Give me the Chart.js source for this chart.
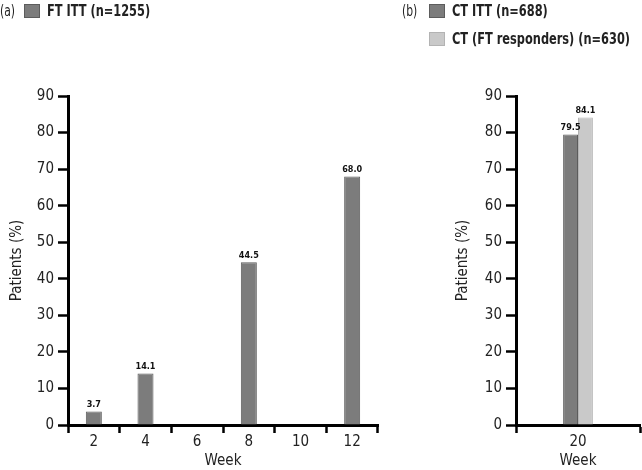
<!DOCTYPE html>
<html>
<head>
<meta charset="utf-8">
<script src="https://cdn.jsdelivr.net/npm/chart.js@4"></script>
<style>
  body { margin: 0; background: #fff; }
  #wrap { position: relative; width: 642px; height: 470px; overflow: hidden;
          font-family: 'Liberation Sans Narrow', 'DejaVu Sans Condensed', sans-serif; color: #222; }
  canvas { position: absolute; top: 0; }
  .tag { position: absolute; font-size: 15px; transform: scaleX(0.8); transform-origin: left top; }
  .key { position: absolute; font-size: 16px; font-weight: bold; white-space: nowrap; }
  .key i { display: inline-block; width: 16px; height: 14px; vertical-align: -2px; margin-right: 7px; box-sizing: border-box; }
  .key span { display: inline-block; transform: scaleX(0.79); transform-origin: left center; }
</style>
</head>
<body>
<div id="wrap">
  <canvas id="chartA" width="400" height="470" style="left:0"></canvas>
  <canvas id="chartB" width="198" height="470" style="left:444px"></canvas>
  <div class="tag" style="left:0;top:2px">(a)</div>
  <div class="tag" style="left:402px;top:2px">(b)</div>
  <div class="key" id="keyA1" style="left:24px;top:1px"></div>
  <div class="key" id="keyB1" style="left:429px;top:1px"></div>
  <div class="key" id="keyB2" style="left:429px;top:29px"></div>
</div>
<script>
// panel (a)
var weeksA = ["2", "4", "6", "8", "10", "12"];
var ftItt = [3.7, 14.1, null, 44.5, null, 68.0];

// panel (b)
var weeksB = ["20"];
var ctItt = [79.5];
var ctFtResp = [84.1];

var seriesNames = ["FT ITT (n=1255)", "CT ITT (n=688)", "CT (FT responders) (n=630)"];
var dark = "#7c7c7c", darkEdge = "#5c5c5c";
var light = "#c9c9c9", lightEdge = "#b3b3b3";

var fontFam = "'Liberation Sans Narrow', 'DejaVu Sans Condensed', sans-serif";

function key(id, name, fill, edge) {
  document.getElementById(id).innerHTML =
    '<i style="background:' + fill + ';border:1px solid ' + edge + '"></i><span>' + name + '</span>';
}
key("keyA1", seriesNames[0], dark, darkEdge);
key("keyB1", seriesNames[1], dark, darkEdge);
key("keyB2", seriesNames[2], light, lightEdge);

// value printed on top of each bar
var barValues = {
  id: "barValues",
  afterDatasetsDraw: function(chart) {
    var c = chart.ctx;
    c.save();
    c.font = "bold 9px " + fontFam;
    c.fillStyle = "#111";
    c.textAlign = "center";
    c.textBaseline = "bottom";
    chart.data.datasets.forEach(function(ds, i) {
      chart.getDatasetMeta(i).data.forEach(function(bar, j) {
        if (ds.data[j] == null) return;
        c.fillText(ds.data[j].toFixed(1), bar.x, bar.y - 2);
      });
    });
    c.restore();
  }
};

function makeOptions(yWidth, titlePad, padRight) {
  return {
    responsive: false,
    animation: false,
    layout: { padding: { top: 96, right: padRight, left: 0, bottom: 0 } },
    plugins: { legend: { display: false }, tooltip: { enabled: false } },
    scales: {
      x: {
        grid: { offset: true, drawOnChartArea: false, drawTicks: true, tickLength: 8, tickWidth: 2.5, tickColor: "#000" },
        border: { display: true, color: "#000", width: 3 },
        ticks: { color: "#222", font: { family: fontFam, size: 15 }, padding: 0 },
        title: { display: true, text: "Week", color: "#222", font: { family: fontFam, size: 15 }, padding: { top: 2, bottom: 0 } },
        afterFit: function(s) { s.height = 45; }
      },
      y: {
        min: 0, max: 90,
        ticks: { stepSize: 10, color: "#222", font: { family: fontFam, size: 15 }, padding: 4 },
        grid: { drawOnChartArea: false, drawTicks: true, tickLength: 10, tickWidth: 2.5, tickColor: "#000" },
        border: { display: true, color: "#000", width: 3 },
        title: { display: true, text: "Patients (%)", color: "#222", font: { family: fontFam, size: 15 }, padding: { top: titlePad, bottom: 0 } },
        afterFit: function(s) { s.width = yWidth; }
      }
    }
  };
}

new Chart(document.getElementById("chartA"), {
  type: "bar",
  data: {
    labels: weeksA,
    datasets: [{
      label: seriesNames[0],
      data: ftItt,
      backgroundColor: dark,
      borderColor: darkEdge,
      borderWidth: 1,
      barPercentage: 0.31,
      categoryPercentage: 1
    }]
  },
  options: makeOptions(68, 8, 22),
  plugins: [barValues]
});

new Chart(document.getElementById("chartB"), {
  type: "bar",
  data: {
    labels: weeksB,
    datasets: [{
      label: seriesNames[1],
      data: ctItt,
      backgroundColor: dark,
      borderColor: darkEdge,
      borderWidth: 1,
      barPercentage: 1,
      categoryPercentage: 0.24
    }, {
      label: seriesNames[2],
      data: ctFtResp,
      backgroundColor: light,
      borderColor: lightEdge,
      borderWidth: 1,
      barPercentage: 1,
      categoryPercentage: 0.24
    }]
  },
  options: makeOptions(72, 10, 2),
  plugins: [barValues]
});
</script>
</body>
</html>
